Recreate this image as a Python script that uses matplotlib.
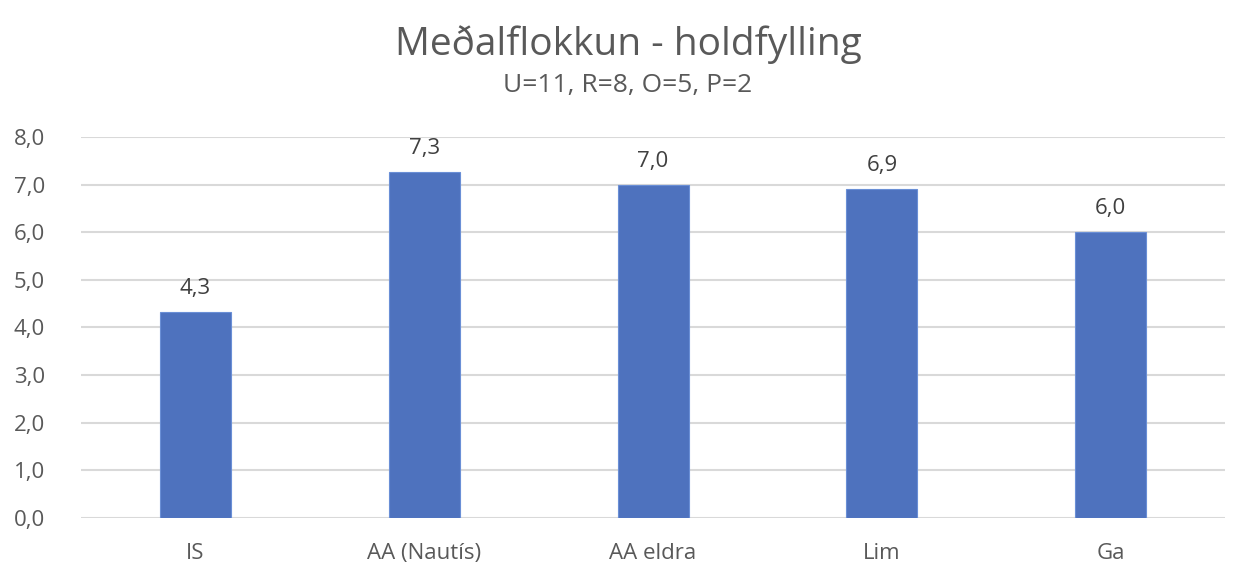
import numpy as np
import matplotlib.pyplot as plt

plt.rcParams['font.family'] = ['Open Sans', 'DejaVu Sans']

categories = ["IS", "AA (Nautís)", "AA eldra", "Lim", "Ga"]
values = [4.33, 7.27, 7.0, 6.91, 6.0]
yticks = [0, 1, 2, 3, 4, 5, 6, 7, 8]

text_col = "#595959"
bar_col = "#4E72BE"

fig = plt.figure(figsize=(12.56, 5.8), dpi=100)
ax = fig.add_axes([0.0645, 0.107, 0.911, 0.657])

x = np.arange(len(categories))
ax.bar(x, values, width=0.31, color=bar_col, edgecolor="#6a8fd6", linewidth=0.8, zorder=3)

# data labels with comma decimals
for xi, v in zip(x, values):
    ax.text(xi, v + 0.27, f"{v:.1f}".replace(".", ","), ha="center", va="bottom",
            fontsize=16, color="#404040")

ax.set_xlim(-0.5, len(categories) - 0.5)
ax.set_ylim(0, 8)
ax.set_yticks(yticks)
ax.set_yticklabels([f"{t:.1f}".replace(".", ",") for t in yticks], fontsize=16, color=text_col)
ax.set_xticks(x)
ax.set_xticklabels(categories, fontsize=16, color=text_col)
ax.tick_params(axis="x", length=0, pad=18)
ax.tick_params(axis="y", length=0, pad=26)
ax.grid(axis="y", color="#d9d9d9", lw=1.5, zorder=0)
for s in ax.spines.values():
    s.set_visible(False)

fig.text(0.5, 0.924, "Meðalflokkun - holdfylling", ha="center", va="center",
         fontsize=28, color=text_col)
fig.text(0.5, 0.853, "U=11, R=8, O=5, P=2", ha="center", va="center",
         fontsize=19, color=text_col)

fig.savefig("out.png", dpi=100)
